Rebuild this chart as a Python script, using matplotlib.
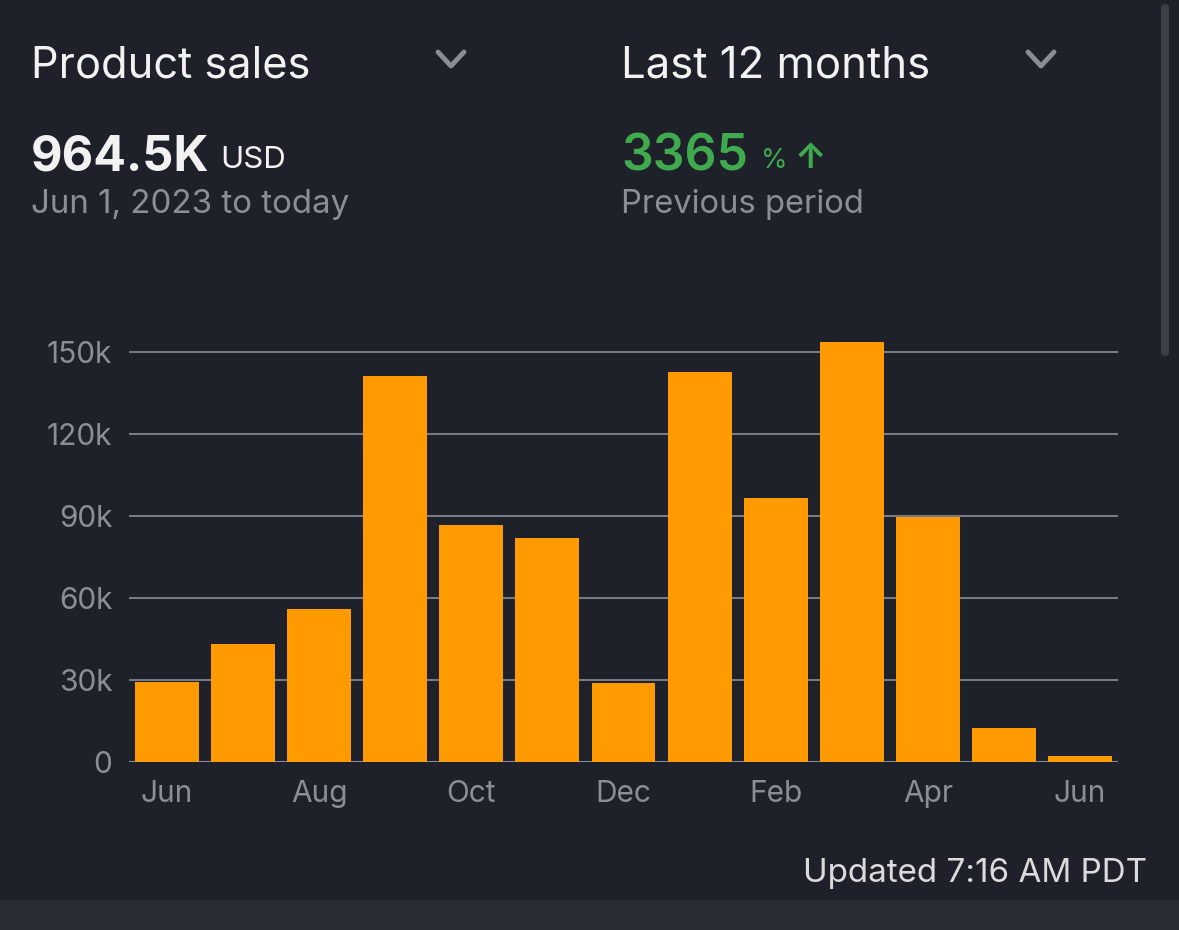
import numpy as np
import matplotlib.pyplot as plt
from matplotlib.lines import Line2D
from matplotlib.patches import Rectangle, FancyBboxPatch

plt.rcParams['font.family'] = ['Inter', 'DejaVu Sans']

# data
months = ['Jun', 'Jul', 'Aug', 'Sep', 'Oct', 'Nov', 'Dec',
          'Jan', 'Feb', 'Mar', 'Apr', 'May', 'Jun']
sales = [29300, 43200, 56000, 141200, 86700, 82000, 28900,
         142700, 96600, 153700, 89600, 12400, 2200]
y_ticks = [0, 30000, 60000, 90000, 120000, 150000]
y_labels = ['0', '30k', '60k', '90k', '120k', '150k']

BG = '#1e2129'
BAR = '#ff9a00'
GRID = '#767a82'
MUTED = '#8b8e95'
TEXT = '#f2f2f2'
GREEN = '#3faa4e'

W, H = 1179, 930
fig = plt.figure(figsize=(W / 100, H / 100), dpi=100, facecolor=BG)


def fx(px):
    return px / W


def fy(py):
    return 1 - py / H


# chart area
ax = fig.add_axes([fx(129), fy(762), fx(1118 - 129), (762 - 324.7) / H])
ax.set_facecolor(BG)
x = np.arange(len(months))
ax.bar(x, sales, width=0.84, color=BAR, zorder=3)
ax.set_xlim(-0.5, len(months) - 0.5)
ax.set_ylim(0, 160000)
ax.set_yticks(y_ticks)
ax.set_yticklabels(y_labels)
ax.set_xticks(x[::2])
ax.set_xticklabels(months[::2])
for v in y_ticks:
    ax.axhline(v, color=GRID if v else '#848b9a', lw=1.5, zorder=1)
for s in ax.spines.values():
    s.set_visible(False)
ax.tick_params(axis='both', length=0, labelsize=21.5, labelcolor=MUTED)
ax.tick_params(axis='y', pad=12)
ax.tick_params(axis='x', pad=13)

# header texts
fig.text(fx(31), fy(78), 'Product sales', color=TEXT, fontsize=31.2, va='baseline')
fig.text(fx(621), fy(78), 'Last 12 months', color=TEXT, fontsize=31.5, va='baseline')
fig.text(fx(31), fy(170), '964.5K', color=TEXT, fontsize=35, fontweight='bold', va='baseline')
fig.text(fx(220), fy(168), 'USD', color=TEXT, fontsize=22.5, va='baseline')
fig.text(fx(31), fy(213), 'Jun 1, 2023 to today', color=MUTED, fontsize=23.8, va='baseline')
fig.text(fx(621), fy(170), '3365', color=GREEN, fontsize=36, fontweight='semibold', va='baseline')
fig.text(fx(761), fy(168), '%', color=GREEN, fontsize=19.5, va='baseline')
fig.text(fx(795), fy(168), '↑', color=GREEN, fontsize=25, fontweight='bold', va='baseline')
fig.text(fx(621), fy(213), 'Previous period', color=MUTED, fontsize=23.6, va='baseline')
fig.text(fx(1147), fy(882), 'Updated 7:16 AM PDT', color='#dadbdd', fontsize=23.9,
         ha='right', va='baseline')

# dropdown chevrons
for cx in (451, 1041):
    fig.add_artist(Line2D([fx(cx - 13), fx(cx), fx(cx + 13)],
                          [fy(52), fy(66), fy(52)], color='#8a8d93', lw=3.5,
                          solid_capstyle='round', solid_joinstyle='round'))

# bottom strip and scrollbar
fig.add_artist(Rectangle((0, 0), 1, fy(900), transform=fig.transFigure,
                         color='#282c33', zorder=0))
fig.add_artist(FancyBboxPatch((fx(1161), fy(356)), fx(8), (356 - 4) / H,
                              boxstyle='round,pad=0,rounding_size=0.004',
                              transform=fig.transFigure, color='#3b3f46', lw=0))

fig.savefig('out.png', dpi=100, facecolor=BG)
